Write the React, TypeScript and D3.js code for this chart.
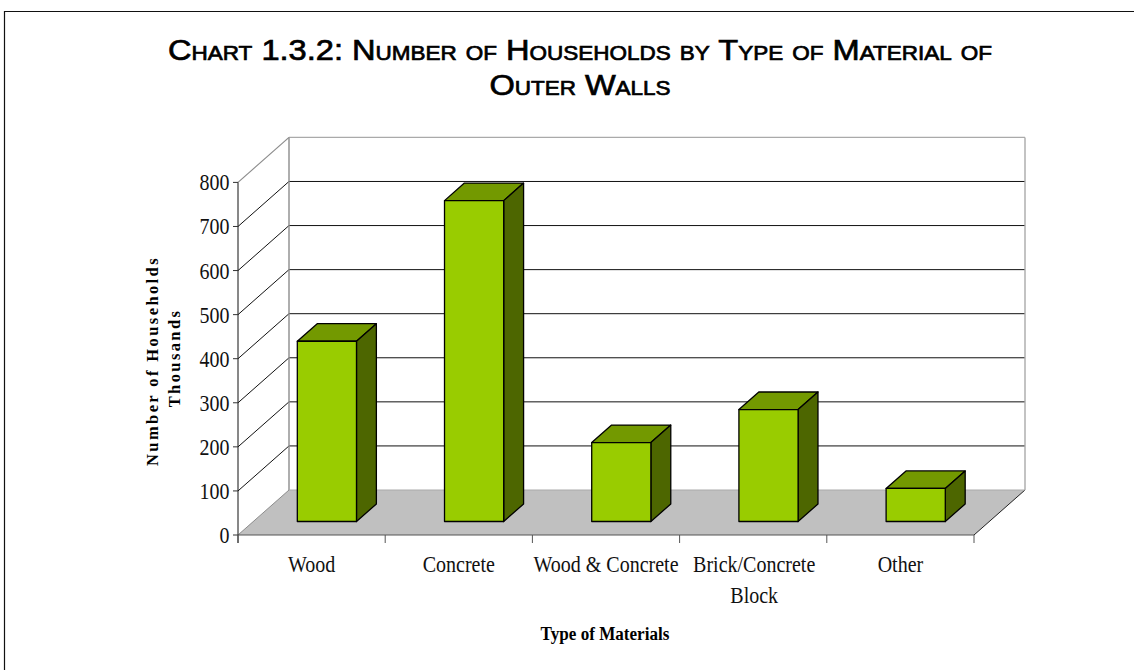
import React from "react";
import * as d3 from "d3";

const categories = ["Wood", "Concrete", "Wood & Concrete", "Brick/Concrete Block", "Other"];
const categoryLines = [["Wood"], ["Concrete"], ["Wood & Concrete"], ["Brick/Concrete", "Block"], ["Other"]];
const households = [409, 728, 179, 254, 75];
const yTicks = [0, 100, 200, 300, 400, 500, 600, 700, 800];
const titleLines = ["Chart 1.3.2: Number of Households by Type of Material of", "Outer Walls"];
const yTitleLines = ["Number of Households", "Thousands"];
const xTitle = "Type of Materials";

const W = 1134, H = 670;
const x0 = 238, x1 = 974, yBase = 535, yTop = 182.4;
const depthX = 51, depthY = -45;
const barDepthStart = 0.3, barDepthSize = 0.39, barWidthFrac = 0.402;

const y = d3.scaleLinear().domain([0, 800]).range([yBase, yTop]);
const x = d3.scaleBand().domain(categories).range([x0, x1]).paddingInner(0).paddingOuter(0);
const pts = (a: number[][]) => a.map((p) => p.join(",")).join(" ");
const serif = "'Liberation Serif', serif";
const grey = "#8c8c8c";

export default function App() {
  const bw = x.bandwidth();
  return (
    <svg width={W} height={H} viewBox={`0 0 ${W} ${H}`} style={{ position: "fixed", left: 0, top: 0, background: "#fff" }}>
      <path d={`M${W},11.5 H4.5 V${H}`} fill="none" stroke="#111" strokeWidth={1.2} />
      {titleLines.map((t, i) => (
        <text key={t} x={580} y={60 + i * 35} textAnchor="middle" fontFamily="'Liberation Sans', sans-serif" fontSize={29}
          style={{ fontVariant: "small-caps" }} stroke="#000" strokeWidth={0.7} fill="#000"
          textLength={i === 0 ? 824 : 181} lengthAdjust="spacingAndGlyphs">{t}</text>
      ))}

      {/* floor */}
      <polygon points={pts([[x0, yBase], [x1, yBase], [x1 + depthX, yBase + depthY], [x0 + depthX, yBase + depthY]])} fill="#c0c0c0" />
      <path d={`M${x0},${yBase} L${x0 + depthX},${yBase + depthY}`} stroke={grey} fill="none" />
      <path d={`M${x1},${yBase} L${x1 + depthX},${yBase + depthY}`} stroke="#222" fill="none" />

      {/* walls */}
      <path d={`M${x0},${y(800)} L${x0 + depthX},${y(800) + depthY}`} fill="none" stroke={grey} strokeWidth={1.2} />
      {yTicks.filter((t) => t > 0 && t < 800).map((t) => (
        <path key={t} d={`M${x0},${y(t)} L${x0 + depthX},${y(t) + depthY} H${x1 + depthX}`} fill="none" stroke="#111" strokeWidth={1} />
      ))}
      <line x1={x0 + depthX} x2={x1 + depthX} y1={y(800) + depthY} y2={y(800) + depthY} stroke="#aaa" strokeWidth={1.2} />
      <line x1={x0 + depthX} x2={x0 + depthX} y1={y(800) + depthY} y2={yBase + depthY} stroke={grey} strokeWidth={1.4} />
      <line x1={x1 + depthX} x2={x1 + depthX} y1={y(800) + depthY} y2={yBase + depthY} stroke="#aaa" strokeWidth={1.4} />
      <line x1={x0 + depthX} x2={x1 + depthX} y1={yBase + depthY} y2={yBase + depthY} stroke="#aaa" strokeWidth={1} />

      {/* axes */}
      <line x1={x0} x2={x0} y1={y(800)} y2={yBase + 8} stroke="#111" />
      <line x1={x0} x2={x1} y1={yBase} y2={yBase} stroke="#555" strokeWidth={1.2} />
      {yTicks.map((t) => (
        <g key={t}>
          <line x1={x0 - 5} x2={x0} y1={y(t)} y2={y(t)} stroke="#333" />
          <text transform={`translate(${x0 - 8.5},${y(t) + 8}) scale(0.85,1)`} textAnchor="end" fontFamily={serif} fontSize={23.5} fill="#111">{t}</text>
        </g>
      ))}
      {[...categories.map((c) => x(c) as number), x1].map((p, i) => (
        <line key={i} x1={p} x2={p} y1={yBase} y2={yBase + 8} stroke="#555" />
      ))}

      {/* bars */}
      {categories.map((c, i) => {
        const w = bw * barWidthFrac;
        const fx = (x(c) as number) + bw / 2 - w / 2 + depthX * barDepthStart;
        const b = yBase + depthY * barDepthStart;
        const t = y(households[i]) + depthY * barDepthStart;
        const dx = depthX * barDepthSize, dy = depthY * barDepthSize;
        return (
          <g key={c} stroke="#000" strokeWidth={1.3} strokeLinejoin="round">
            <polygon points={pts([[fx, t], [fx + w, t], [fx + w + dx, t + dy], [fx + dx, t + dy]])} fill="#739900" />
            <polygon points={pts([[fx + w, t], [fx + w + dx, t + dy], [fx + w + dx, b + dy], [fx + w, b]])} fill="#4d6600" />
            <rect x={fx} y={t} width={w} height={b - t} fill="#99cc00" />
          </g>
        );
      })}

      {/* category labels */}
      {categories.map((c, i) => categoryLines[i].map((line, j) => (
        <text key={line} transform={`translate(${(x(c) as number) + bw / 2 + (i === 3 ? 1 : 0)},${571.5 + j * 31}) scale(0.87,1)`} textAnchor="middle" fontFamily={serif} fontSize={23} fill="#111">{line}</text>
      )))}

      <text transform="translate(605,640) scale(0.9,1)" textAnchor="middle" fontFamily={serif} fontSize={19} fontWeight="bold" fill="#000">{xTitle}</text>
      {yTitleLines.map((t, i) => (
        <text key={t} transform={`translate(${158 + i * 22},${i === 0 ? 361 : 358}) rotate(-90)`} textAnchor="middle" fontFamily={serif}
          fontSize={16.5} fontWeight="bold" letterSpacing={2.4} fill="#000">{t}</text>
      ))}
    </svg>
  );
}
